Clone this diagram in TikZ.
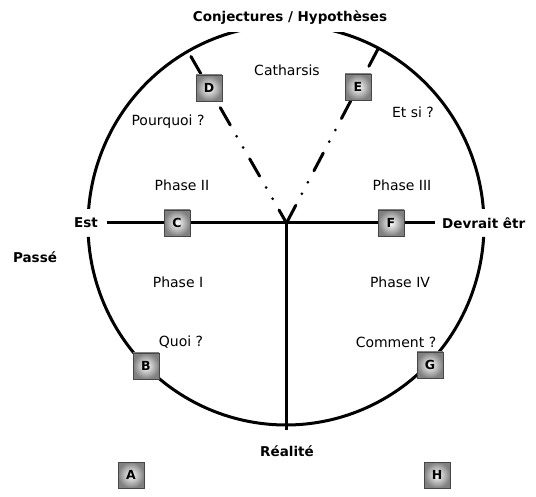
\documentclass[tikz,border=0pt]{standalone}
\usepackage{fontspec}
\setmainfont{DejaVu Sans}
\usetikzlibrary{calc}
\pgfdeclarelayer{bg}
\pgfsetlayers{bg,main}
\definecolor{boxouter}{RGB}{128,128,128}
\definecolor{boxedge}{RGB}{70,70,70}
\begin{document}
\begin{tikzpicture}[x=1pt,y=-1pt,
  lbl/.style={font=\fontsize{14}{16}\selectfont},
  btxt/.style={font=\fontsize{13.5}{16}\selectfont\bfseries},
  blbl/.style={btxt, fill=white, inner sep=0pt, minimum height=27pt},
  letterbox/.style={draw=boxedge, line width=0.8pt, inner color=white, outer color=boxouter,
    minimum size=26pt, inner sep=0pt, font=\fontsize{12.5}{13}\selectfont\bfseries},
  ring/.style={line width=3pt, line cap=butt},
  axisline/.style={line width=3pt},
  dd/.style={line width=3pt, line cap=round,
    dash pattern=on 20pt off 13pt on 0pt off 13pt on 0pt off 13pt}
]
\useasboundingbox (0,0) rectangle (536,497);

% named points
\coordinate (O) at (286,225);
\coordinate (j) at (286.5,223);
\coordinate (hl) at (107,223);
\coordinate (hr) at (435,223);
\coordinate (vb) at (286.5,430);

% boxes
\node[letterbox] (A) at (131,475) {A};
\node[letterbox] (B) at (146,366) {B};
\node[letterbox] (C) at (177,223) {C};
\node[letterbox] (D) at (209,88) {D};
\node[letterbox] (E) at (358,87) {E};
\node[letterbox] (F) at (391,223) {F};
\node[letterbox] (G) at (430,365) {G};
\node[letterbox] (H) at (437,475) {H};

\coordinate (dtop) at ($(j)!1.268!(D.center)$);
\coordinate (etop) at ($(j)!1.283!(E.center)$);

% labels
\node[blbl, minimum height=28pt] (conj) at (290,18) {Conjectures / Hypothèses};
\node[blbl] (est) at (86,223) {Est};
\node[blbl, anchor=west] (dev) at (442,223) {Devrait êtr};
\node[btxt] (passe) at (35,257) {Passé};
\node[btxt] (real) at (287,451) {Réalité};

\node[lbl] (cath) at (287,70) {Catharsis};
\node[lbl] (pourq) at (168,122) {Pourquoi ?};
\node[lbl] (etsi) at (413,112) {Et si ?};
\node[lbl] (ph2) at (182,185) {Phase II};
\node[lbl] (ph3) at (402,185) {Phase III};
\node[lbl] (ph1) at (178,282) {Phase I};
\node[lbl] (ph4) at (400,282) {Phase IV};
\node[lbl] (quoi) at (181,342) {Quoi ?};
\node[lbl] (comm) at (396,342) {Comment ?};

\begin{pgfonlayer}{bg}
  % circle, broken where the labels sit on it
  \draw[ring] plot[domain=4.3:76.3, samples=60, smooth]
     ({286+198*cos(\x)}, {225-200*sin(\x)});
  \draw[ring] plot[domain=103.4:175.7, samples=60, smooth]
     ({286+198*cos(\x)}, {225-200*sin(\x)});
  \draw[ring] plot[domain=183.4:356.6, samples=120, smooth]
     ({286+198*cos(\x)}, {225-200*sin(\x)});
  \draw[axisline] (hl) -- (C) -- (F) -- (hr);
  \draw[axisline] (j) -- (vb);
  \draw[dd, dash phase=5pt] (j) -- (D.center) -- (dtop);
  \draw[dd] (j) -- (E.center) -- (etop);
\end{pgfonlayer}
\end{tikzpicture}
\end{document}
